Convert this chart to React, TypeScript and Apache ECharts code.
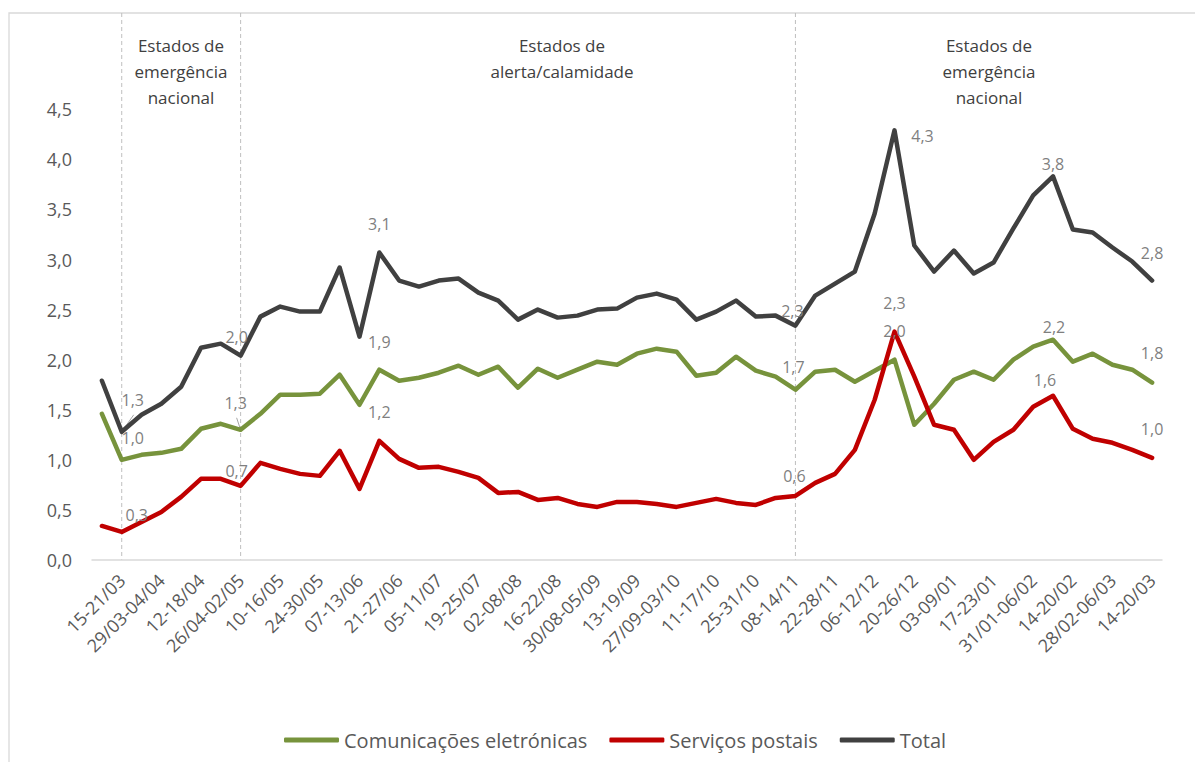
import React, { useEffect, useRef } from "react";
import * as echarts from "echarts";

const weeks = [
  "08-14/03", "15-21/03", "22-28/03", "29/03-04/04", "05-11/04", "12-18/04", "19-25/04",
  "26/04-02/05", "03-09/05", "10-16/05", "17-23/05", "24-30/05", "31/05-06/06", "07-13/06",
  "14-20/06", "21-27/06", "28/06-04/07", "05-11/07", "12-18/07", "19-25/07", "26/07-01/08",
  "02-08/08", "09-15/08", "16-22/08", "23-29/08", "30/08-05/09", "06-12/09", "13-19/09",
  "20-26/09", "27/09-03/10", "04-10/10", "11-17/10", "18-24/10", "25-31/10", "01-07/11",
  "08-14/11", "15-21/11", "22-28/11", "29/11-05/12", "06-12/12", "13-19/12", "20-26/12",
  "27/12-02/01", "03-09/01", "10-16/01", "17-23/01", "24-30/01", "31/01-06/02", "07-13/02",
  "14-20/02", "21-27/02", "28/02-06/03", "07-13/03", "14-20/03",
];

const comunicacoes = [
  1.46, 1.0, 1.05, 1.07, 1.11, 1.31, 1.36, 1.3, 1.46, 1.65, 1.65, 1.66, 1.85, 1.55, 1.9,
  1.79, 1.82, 1.87, 1.94, 1.85, 1.93, 1.72, 1.91, 1.82, 1.9, 1.98, 1.95, 2.06, 2.11, 2.08,
  1.84, 1.87, 2.03, 1.89, 1.83, 1.7, 1.88, 1.9, 1.78, 1.89, 2.0, 1.35, 1.56, 1.8, 1.88, 1.8,
  2.0, 2.13, 2.2, 1.98, 2.06, 1.95, 1.9, 1.77,
];

const postais = [
  0.34, 0.28, 0.38, 0.48, 0.63, 0.81, 0.81, 0.74, 0.97, 0.91, 0.86, 0.84, 1.09, 0.71, 1.19,
  1.01, 0.92, 0.93, 0.88, 0.82, 0.67, 0.68, 0.6, 0.62, 0.56, 0.53, 0.58, 0.58, 0.56, 0.53,
  0.57, 0.61, 0.57, 0.55, 0.62, 0.64, 0.77, 0.86, 1.1, 1.6, 2.28, 1.83, 1.35, 1.3, 1.0, 1.18,
  1.3, 1.53, 1.64, 1.31, 1.21, 1.17, 1.1, 1.02,
];

const total = [
  1.79, 1.28, 1.45, 1.56, 1.73, 2.12, 2.16, 2.04, 2.43, 2.53, 2.48, 2.48, 2.92, 2.23, 3.07,
  2.79, 2.73, 2.79, 2.81, 2.67, 2.59, 2.4, 2.5, 2.42, 2.44, 2.5, 2.51, 2.62, 2.66, 2.6, 2.4,
  2.48, 2.59, 2.43, 2.44, 2.34, 2.64, 2.76, 2.88, 3.46, 4.29, 3.14, 2.88, 3.09, 2.86, 2.97,
  3.31, 3.64, 3.83, 3.3, 3.27, 3.12, 2.98, 2.79,
];

const seriesNames = ["Comunicações eletrónicas", "Serviços postais", "Total"];
const labeledWeeks = [1, 7, 14, 35, 40, 48, 53];
const phaseBoundaries = [1, 7, 35];
const phaseTitles = [
  "Estados de\nemergência\nnacional",
  "Estados de\nalerta/calamidade",
  "Estados de\nemergência\nnacional",
];

// label offsets (style only)
const labelOffsets: Record<string, Record<number, number[]>> = {
  c: { 1: [11, -22], 7: [-5, -27], 14: [0, -28], 35: [-2, -23], 40: [0, -29], 48: [1, -13], 53: [0, -30] },
  p: { 1: [15, -17], 7: [-4, -15], 14: [0, -29], 35: [-1, -20], 40: [0, -29], 48: [-8, -16], 53: [0, -29] },
  t: { 1: [11, -32], 7: [-4, -19], 14: [0, -29], 35: [-3, -15], 40: [28, 6], 48: [0, -12], 53: [0, -28] },
};

const FONT = '"Open Sans", "Noto Sans", sans-serif';
const fmt = (v: number) => v.toFixed(1).replace(".", ",");

function buildData(values: number[], key: string) {
  return values.map((v, i) => {
    if (labeledWeeks.indexOf(i) >= 0) {
      return {
        value: v,
        label: {
          show: true,
          position: "inside",
          offset: labelOffsets[key][i],
          formatter: (p: any) => fmt(p.value),
          color: "#7f7f7f",
          fontSize: 16,
          fontFamily: FONT,
        },
      };
    }
    return v;
  });
}

export default function App() {
  const ref = useRef<HTMLDivElement>(null);
  useEffect(() => {
    document.body.style.margin = "0";
    const chart = echarts.init(ref.current as HTMLDivElement, null, { renderer: "svg" });
    const mkSeries = (name: string, values: number[], key: string, color: string) => ({
      name,
      type: "line",
      data: buildData(values, key),
      color,
      symbol: "circle",
      symbolSize: 0,
      showSymbol: true,
      lineStyle: { color, width: 4.5, join: "round", cap: "round" },
      itemStyle: { color },
      label: { show: false },
      emphasis: { disabled: true },
    });
    chart.setOption({
      animation: false,
      textStyle: { fontFamily: FONT },
      grid: { left: 92, right: 33, top: 109.3, bottom: 202 },
      xAxis: {
        type: "category",
        data: weeks,
        boundaryGap: true,
        axisLine: { lineStyle: { color: "#d9d9d9", width: 1.5 } },
        axisTick: { show: false },
        axisLabel: {
          interval: (i: number) => i % 2 === 1,
          rotate: 45,
          color: "#595959",
          fontSize: 18,
          fontFamily: FONT,
          margin: 17,
        },
      },
      yAxis: {
        type: "value",
        min: 0,
        max: 4.5,
        interval: 0.5,
        axisLine: { show: false },
        axisTick: { show: false },
        splitLine: { show: false },
        axisLabel: {
          formatter: (v: number) => fmt(v),
          color: "#595959",
          fontSize: 18,
          fontFamily: FONT,
          margin: 20,
        },
      },
      legend: {
        data: seriesNames,
        bottom: 5,
        left: 279,
        icon: "roundRect",
        itemWidth: 55,
        itemHeight: 5,
        itemGap: 22,
        textStyle: { color: "#595959", fontSize: 20, fontFamily: FONT, lineHeight: 24 },
      },
      series: [
        mkSeries(seriesNames[0], comunicacoes, "c", "#77933c"),
        mkSeries(seriesNames[1], postais, "p", "#c00000"),
        mkSeries(seriesNames[2], total, "t", "#404040"),
      ],
    });

    const yBase = chart.convertToPixel({ yAxisIndex: 0 }, 0) as number;
    const xs = phaseBoundaries.map((i) => chart.convertToPixel({ xAxisIndex: 0 }, weeks[i]) as number);
    const graphics: any[] = [
      {
        type: "rect",
        shape: { x: 9, y: 13, width: 1400, height: 900 },
        style: { fill: "none", stroke: "#d9d9d9", lineWidth: 1.3 },
        silent: true,
        z: -10,
      },
    ];
    xs.forEach((x) => {
      graphics.push({
        type: "line",
        shape: { x1: x, y1: 13, x2: x, y2: yBase },
        style: { stroke: "#bfbfbf", lineWidth: 1, lineDash: [4, 3] },
        silent: true,
        z: -5,
      });
    });
    const titleX = [181, 562, 989];
    phaseTitles.forEach((t, k) => {
      graphics.push({
        type: "text",
        x: titleX[k],
        y: 32,
        style: {
          text: t,
          textAlign: "center",
          textVerticalAlign: "top",
          fill: "#404040",
          font: `17px ${FONT}`,
          lineHeight: 26,
        },
        silent: true,
      });
    });
    // leader lines for two moved labels
    const leaders = [
      { s: total, i: 1, dx: 12, dy: -17 },
      { s: comunicacoes, i: 7, dx: -4, dy: -12 },
    ];
    leaders.forEach((l) => {
      const p = chart.convertToPixel({ xAxisIndex: 0, yAxisIndex: 0 }, [weeks[l.i], l.s[l.i]]) as number[];
      graphics.push({
        type: "line",
        shape: { x1: p[0], y1: p[1], x2: p[0] + l.dx, y2: p[1] + l.dy },
        style: { stroke: "#a6a6a6", lineWidth: 1 },
        silent: true,
      });
    });
    chart.setOption({ graphic: graphics });
    return () => chart.dispose();
  }, []);
  return <div ref={ref} style={{ width: 1195, height: 762 }} />;
}
